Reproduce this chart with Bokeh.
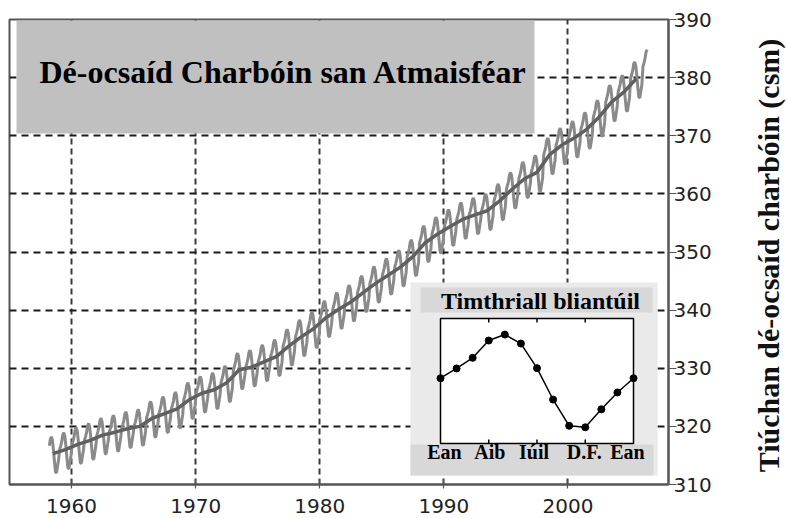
from bokeh.plotting import figure
from bokeh.layouts import row
from bokeh.models import Range1d, FixedTicker, BoxAnnotation, Label
from bokeh.embed import file_html
from bokeh.resources import INLINE
from bokeh.core.properties import value

# ---------------- data ----------------
years = list(range(1958, 2007))
co2_annual = [315.3, 316.0, 316.9, 317.6, 318.5, 319.0, 319.6, 320.0, 321.4, 322.2,
              323.0, 324.6, 325.7, 326.3, 327.5, 329.7, 330.2, 331.1, 332.0, 333.8,
              335.4, 336.8, 338.7, 340.1, 341.4, 343.0, 344.6, 346.0, 347.4, 349.2,
              351.6, 353.1, 354.4, 355.6, 356.4, 357.1, 358.8, 360.8, 362.6, 363.7,
              366.7, 368.4, 369.6, 371.1, 373.2, 375.8, 377.5, 379.8, 381.9]
# seasonal cycle, Jan..Dec (ppm anomaly), from the inset
seasonal_cycle = [0.0, 0.65, 1.36, 2.51, 2.91, 2.31, 0.67, -1.42, -3.17, -3.27, -2.07, -0.95]
first_month = (1958, 3)   # March 1958
last_month = (2006, 5)    # May 2006
trend_last_year = 2005

inset_months = list(range(13))
inset_values = seasonal_cycle + [seasonal_cycle[0]]
inset_tick_pos = [0, 3, 6, 9, 12]
inset_tick_labels = ["Ean", "Aib", "Iúil", "D.F.", "Ean"]

x_ticks = [1960, 1970, 1980, 1990, 2000]
y_ticks = [310, 320, 330, 340, 350, 360, 370, 380, 390]
title_text = "Dé-ocsaíd Charbóin san Atmaisféar"
inset_title = "Timthriall bliantúil"
y_label = "Tiúchan dé-ocsaíd charbóin (csm)"

# monthly series = annual mean + seasonal anomaly
mx, my = [], []
for i, yr in enumerate(years):
    for m in range(12):
        if (yr, m + 1) < first_month or (yr, m + 1) > last_month:
            continue
        mx.append(yr + (m + 0.5) / 12.0)
        my.append(co2_annual[i] + seasonal_cycle[m])
tx = [yr + 0.5 for yr in years if yr <= trend_last_year]
ty = [v for yr, v in zip(years, co2_annual) if yr <= trend_last_year]

# ---------------- layout ----------------
PAGE_W, PAGE_H = 787, 518
LABEL_W = 40
W, H = PAGE_W - LABEL_W, PAGE_H
BL, BT = 9, 19
FW, FH = 659, 465
BR, BB = W - BL - FW, H - BT - FH
FL_PAGE, FB_PAGE = BL, BT + FH


def sx(px):
    return px - FL_PAGE


def sy(py):
    return FB_PAGE - py


SERIF = value("Liberation Serif")

p = figure(width=W, height=H, x_range=Range1d(1955.0, 2008.1), y_range=Range1d(310, 390),
           output_backend="svg", toolbar_location=None, y_axis_location="right",
           min_border_left=BL, min_border_right=BR, min_border_top=BT, min_border_bottom=BB)
p.background_fill_color = "white"
p.border_fill_color = "white"
p.outline_line_color = "#555555"
p.outline_line_width = 2

# grids
p.xgrid.ticker = FixedTicker(ticks=x_ticks)
p.ygrid.ticker = FixedTicker(ticks=y_ticks[1:-1])
p.xgrid.grid_line_color = "#3a3a3a"
p.xgrid.grid_line_dash = "6 4"
p.ygrid.grid_line_color = "#1a1a1a"
p.ygrid.grid_line_dash = "7 5"
for g in (p.xgrid, p.ygrid):
    g.grid_line_width = 2

# axes
p.xaxis.ticker = FixedTicker(ticks=x_ticks)
p.yaxis.ticker = FixedTicker(ticks=y_ticks)
for ax in (p.xaxis, p.yaxis):
    ax.axis_line_color = "#555555"
    ax.axis_line_width = 2
    ax.major_tick_line_color = "#555555"
    ax.major_tick_line_width = 1.2
    ax.minor_tick_line_color = None
    ax.major_label_text_font = "DejaVu Sans"
    ax.major_label_text_font_size = "20px"
    ax.major_label_text_color = "#222222"
p.xaxis.major_tick_in = 5
p.xaxis.major_tick_out = 4
p.xaxis.major_label_standoff = 10
p.yaxis.major_tick_in = 0
p.yaxis.major_tick_out = 8
p.yaxis.major_label_standoff = -3

# main curves
p.line(mx, my, color="#8a8a8a", line_width=3)
p.line(tx, ty, color="#606060", line_width=3.5)


def sbox(x0, x1, y0, y1, fill, line=None, lw=1.0):
    return BoxAnnotation(left=sx(x0), right=sx(x1), top=sy(y0), bottom=sy(y1),
                         left_units="screen", right_units="screen",
                         top_units="screen", bottom_units="screen",
                         fill_color=fill, fill_alpha=1.0,
                         line_color=line, line_alpha=1.0, line_width=lw)


# title box
p.add_layout(sbox(16, 534, 20, 133, "#c0c0c0"))
p.add_layout(Label(x=sx(283), y=sy(71), x_units="screen", y_units="screen", text=title_text,
                   text_align="center", text_baseline="middle", text_font="Liberation Serif",
                   text_font_style="bold", text_font_size="32px", text_color="black"))

# inset backgrounds
p.add_layout(sbox(410, 657, 282, 475, "#eaeaea"))
p.add_layout(sbox(420, 652, 287, 312, "#d8d8d8"))
p.add_layout(sbox(410, 653, 444, 475, "#d8d8d8"))
p.add_layout(sbox(440, 633, 318, 443, "white", "black", 1.5))
p.add_layout(Label(x=sx(540), y=sy(300), x_units="screen", y_units="screen", text=inset_title,
                   text_align="center", text_baseline="middle", text_font="Liberation Serif",
                   text_font_style="bold", text_font_size="24px", text_color="black"))

# inset ranges mapped onto the inset box
iy0 = min(inset_values) - 1.08
iy1 = max(inset_values) + 1.07
kx = (633 - 440) / 12.0
mx0 = 0 - sx(440) / kx
ky = (443 - 318) / (iy1 - iy0)
ay0 = iy0 - sy(443) / ky
p.extra_x_ranges = {"mon": Range1d(mx0, mx0 + FW / kx)}
p.extra_y_ranges = {"anom": Range1d(ay0, ay0 + FH / ky)}

tick_len = 4.0 / ky
inner = inset_tick_pos[1:-1]
p.segment(x0=inner, x1=inner, y0=[iy1] * len(inner), y1=[iy1 - tick_len] * len(inner),
          x_range_name="mon", y_range_name="anom", color="black", line_width=1.5, level="overlay")
p.segment(x0=inner, x1=inner, y0=[iy0] * len(inner), y1=[iy0 + tick_len] * len(inner),
          x_range_name="mon", y_range_name="anom", color="black", line_width=1.5, level="overlay")
p.line(inset_months, inset_values, x_range_name="mon", y_range_name="anom",
       color="black", line_width=1.5, level="overlay")
p.scatter(inset_months, inset_values, x_range_name="mon", y_range_name="anom",
          size=7, color="black", level="overlay")
label_nudge = [4, 1, -3, -1, -6]
p.text(x=inset_tick_pos, y=[iy0] * len(inset_tick_pos), text=inset_tick_labels,
       x_range_name="mon", y_range_name="anom", text_align="center", text_baseline="middle",
       x_offset=label_nudge, y_offset=8, text_font=SERIF, text_font_style="bold",
       text_font_size="20px", text_color="black", level="overlay")

# narrow companion figure holding the vertical axis title (reads bottom to top)
q = figure(width=LABEL_W, height=H, x_range=Range1d(0, 1), y_range=Range1d(0, 1),
           output_backend="svg", toolbar_location=None, x_axis_location=None,
           y_axis_location=None, min_border_left=0, min_border_right=0,
           min_border_top=BT, min_border_bottom=BB)
q.outline_line_color = None
q.grid.visible = False
q.background_fill_color = "white"
q.border_fill_color = "white"
q.add_layout(Label(x=768 - W, y=FB_PAGE - 255, x_units="screen", y_units="screen", text=y_label,
                   angle=90, angle_units="deg", text_align="center", text_baseline="middle",
                   text_font="Liberation Serif", text_font_style="bold", text_font_size="30px",
                   text_color="#111111"))

layout = row(p, q)
open("out.html", "w").write(file_html(layout, INLINE))
